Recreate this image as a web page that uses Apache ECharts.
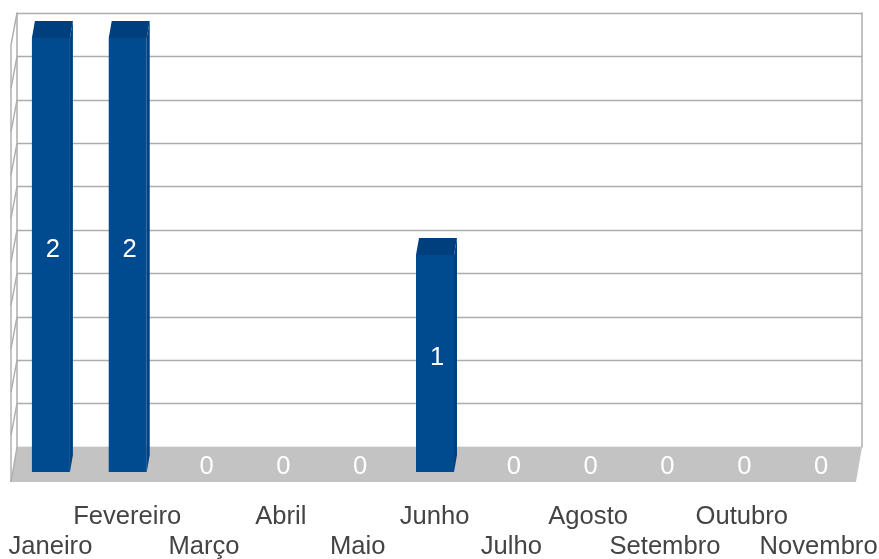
<!DOCTYPE html>
<html>
<head>
<meta charset="utf-8">
<style>html,body{margin:0;padding:0;background:#fff}#chart{width:879px;height:559px}</style>
<script src="https://cdn.jsdelivr.net/npm/echarts@6/dist/echarts.min.js"></script>
</head>
<body>
<div id="chart"></div>
<script>
// Monthly counts, drawn as columns standing in a pseudo-3D box.
const months = ['Janeiro','Fevereiro','Março','Abril','Maio','Junho','Julho','Agosto','Setembro','Outubro','Novembro'];
const counts = [2,2,0,0,0,1,0,0,0,0,0];
const axisMax = 2;
const axisStep = 0.2;

const NAVY = '#004a8f', NAVY_TOP = '#003f7d', NAVY_SIDE = '#00417f';
const WALL = '#adadad', FLOOR = '#c3c3c3';
const DEPTH_X = 6, DEPTH_Y = 32;   // receding offset of the side wall
const FLOOR_DROP = 35;             // floor height on screen
const BAR_DX = 3, BAR_DY = 17;     // receding offset of a column

const font = 'Liberation Sans, Arial, sans-serif';

// Floor plane and slanted left wall, sized from the back wall's axes (grid 0).
function renderBox(params, api) {
  const [l, b] = api.coord([0, 0]);
  const [r, t] = api.coord([1, axisMax]);
  const lineStyle = { stroke: WALL, lineWidth: 1.4, fill: null };
  const children = [{
    type: 'polygon',
    shape: { points: [[l, b], [r, b], [r - DEPTH_X, b + FLOOR_DROP], [l - DEPTH_X, b + FLOOR_DROP]] },
    style: { fill: FLOOR }
  }, {
    type: 'line',
    shape: { x1: l - DEPTH_X, y1: t + DEPTH_Y, x2: l - DEPTH_X, y2: b + FLOOR_DROP },
    style: lineStyle
  }];
  for (let v = 0; v < axisMax - 1e-6; v += axisStep) {
    const y = api.coord([0, axisMax - v])[1];
    children.push({
      type: 'line',
      shape: { x1: l, y1: y, x2: l - DEPTH_X, y2: y + DEPTH_Y },
      style: lineStyle
    });
  }
  children.push({
    type: 'line',
    shape: { x1: l - DEPTH_X, y1: b + FLOOR_DROP, x2: l, y2: b },
    style: lineStyle
  });
  return { type: 'group', silent: true, children };
}

// One column with front, top and side faces, plus its value label.
function renderColumn(params, api) {
  const value = api.value(1);
  const [cx, y0] = api.coord([api.value(0), 0]);
  const yv = api.coord([api.value(0), value])[1];
  const x1 = cx - 17.5, x2 = cx + 20.5;
  const children = [];
  if (value > 0) {
    children.push({
      type: 'polygon',
      shape: { points: [[x2, y0], [x2 + BAR_DX, y0 - BAR_DY], [x2 + BAR_DX, yv - BAR_DY], [x2, yv]] },
      style: { fill: NAVY_SIDE }
    }, {
      type: 'polygon',
      shape: { points: [[x1, yv], [x1 + BAR_DX, yv - BAR_DY], [x2 + BAR_DX, yv - BAR_DY], [x2, yv]] },
      style: { fill: NAVY_TOP }
    }, {
      type: 'rect',
      shape: { x: x1, y: yv, width: x2 - x1, height: y0 - yv },
      style: { fill: NAVY }
    });
  }
  children.push({
    type: 'text',
    x: cx + 3.5,
    y: (y0 + yv) / 2 - 5.5,
    style: {
      text: String(value),
      fill: '#fff',
      font: '25.6px ' + font,
      textAlign: 'center',
      textVerticalAlign: 'middle'
    }
  });
  return { type: 'group', children };
}

const chart = echarts.init(document.getElementById('chart'), null, { renderer: 'canvas' });
chart.setOption({
  animation: false,
  backgroundColor: '#fff',
  grid: [
    // back wall
    { left: 17, top: 13, width: 845, height: 434, show: false, outerBoundsMode: 'none' },
    // front plane of the columns
    { left: 11, top: 38, width: 845, height: 434, show: false, outerBoundsMode: 'none' }
  ],
  xAxis: [
    { type: 'value', gridIndex: 0, min: 0, max: 1, show: false },
    {
      type: 'category', gridIndex: 1, data: months,
      axisLine: { show: false }, axisTick: { show: false },
      axisLabel: {
        interval: 0,
        hideOverlap: false,
        margin: 30,
        padding: [0, 0, 0, 2],
        color: '#444',
        fontFamily: font,
        fontSize: 25.6,
        lineHeight: 30,
        formatter: (name, i) => (i % 2 === 0 ? '\n' + name : name + '\n')
      }
    }
  ],
  yAxis: [
    {
      type: 'value', gridIndex: 0, min: 0, max: axisMax, interval: axisStep,
      axisLabel: { show: false }, axisTick: { show: false },
      axisLine: { show: true, lineStyle: { color: WALL, width: 1.5 } },
      splitLine: { show: true, lineStyle: { color: WALL, width: 1.4 } }
    },
    {
      type: 'value', gridIndex: 1, min: 0, max: axisMax, interval: axisStep,
      axisLabel: { show: false }, axisTick: { show: false },
      axisLine: { show: false }, splitLine: { show: false }
    },
    {
      // right edge of the back wall
      type: 'value', gridIndex: 0, min: 0, max: axisMax, position: 'right',
      axisLabel: { show: false }, axisTick: { show: false },
      axisLine: { show: true, onZero: false, lineStyle: { color: WALL, width: 1.5 } },
      splitLine: { show: false }
    }
  ],
  series: [
    {
      type: 'custom', xAxisIndex: 0, yAxisIndex: 0, z: 1, silent: true,
      clip: false,
      renderItem: renderBox,
      data: [[0, 0]],
      encode: { x: 0, y: 1 }
    },
    {
      type: 'custom', xAxisIndex: 1, yAxisIndex: 1, z: 5,
      clip: false,
      renderItem: renderColumn,
      data: counts.map((c, i) => [i, c]),
      encode: { x: 0, y: 1 }
    }
  ]
});
</script>
</body>
</html>
